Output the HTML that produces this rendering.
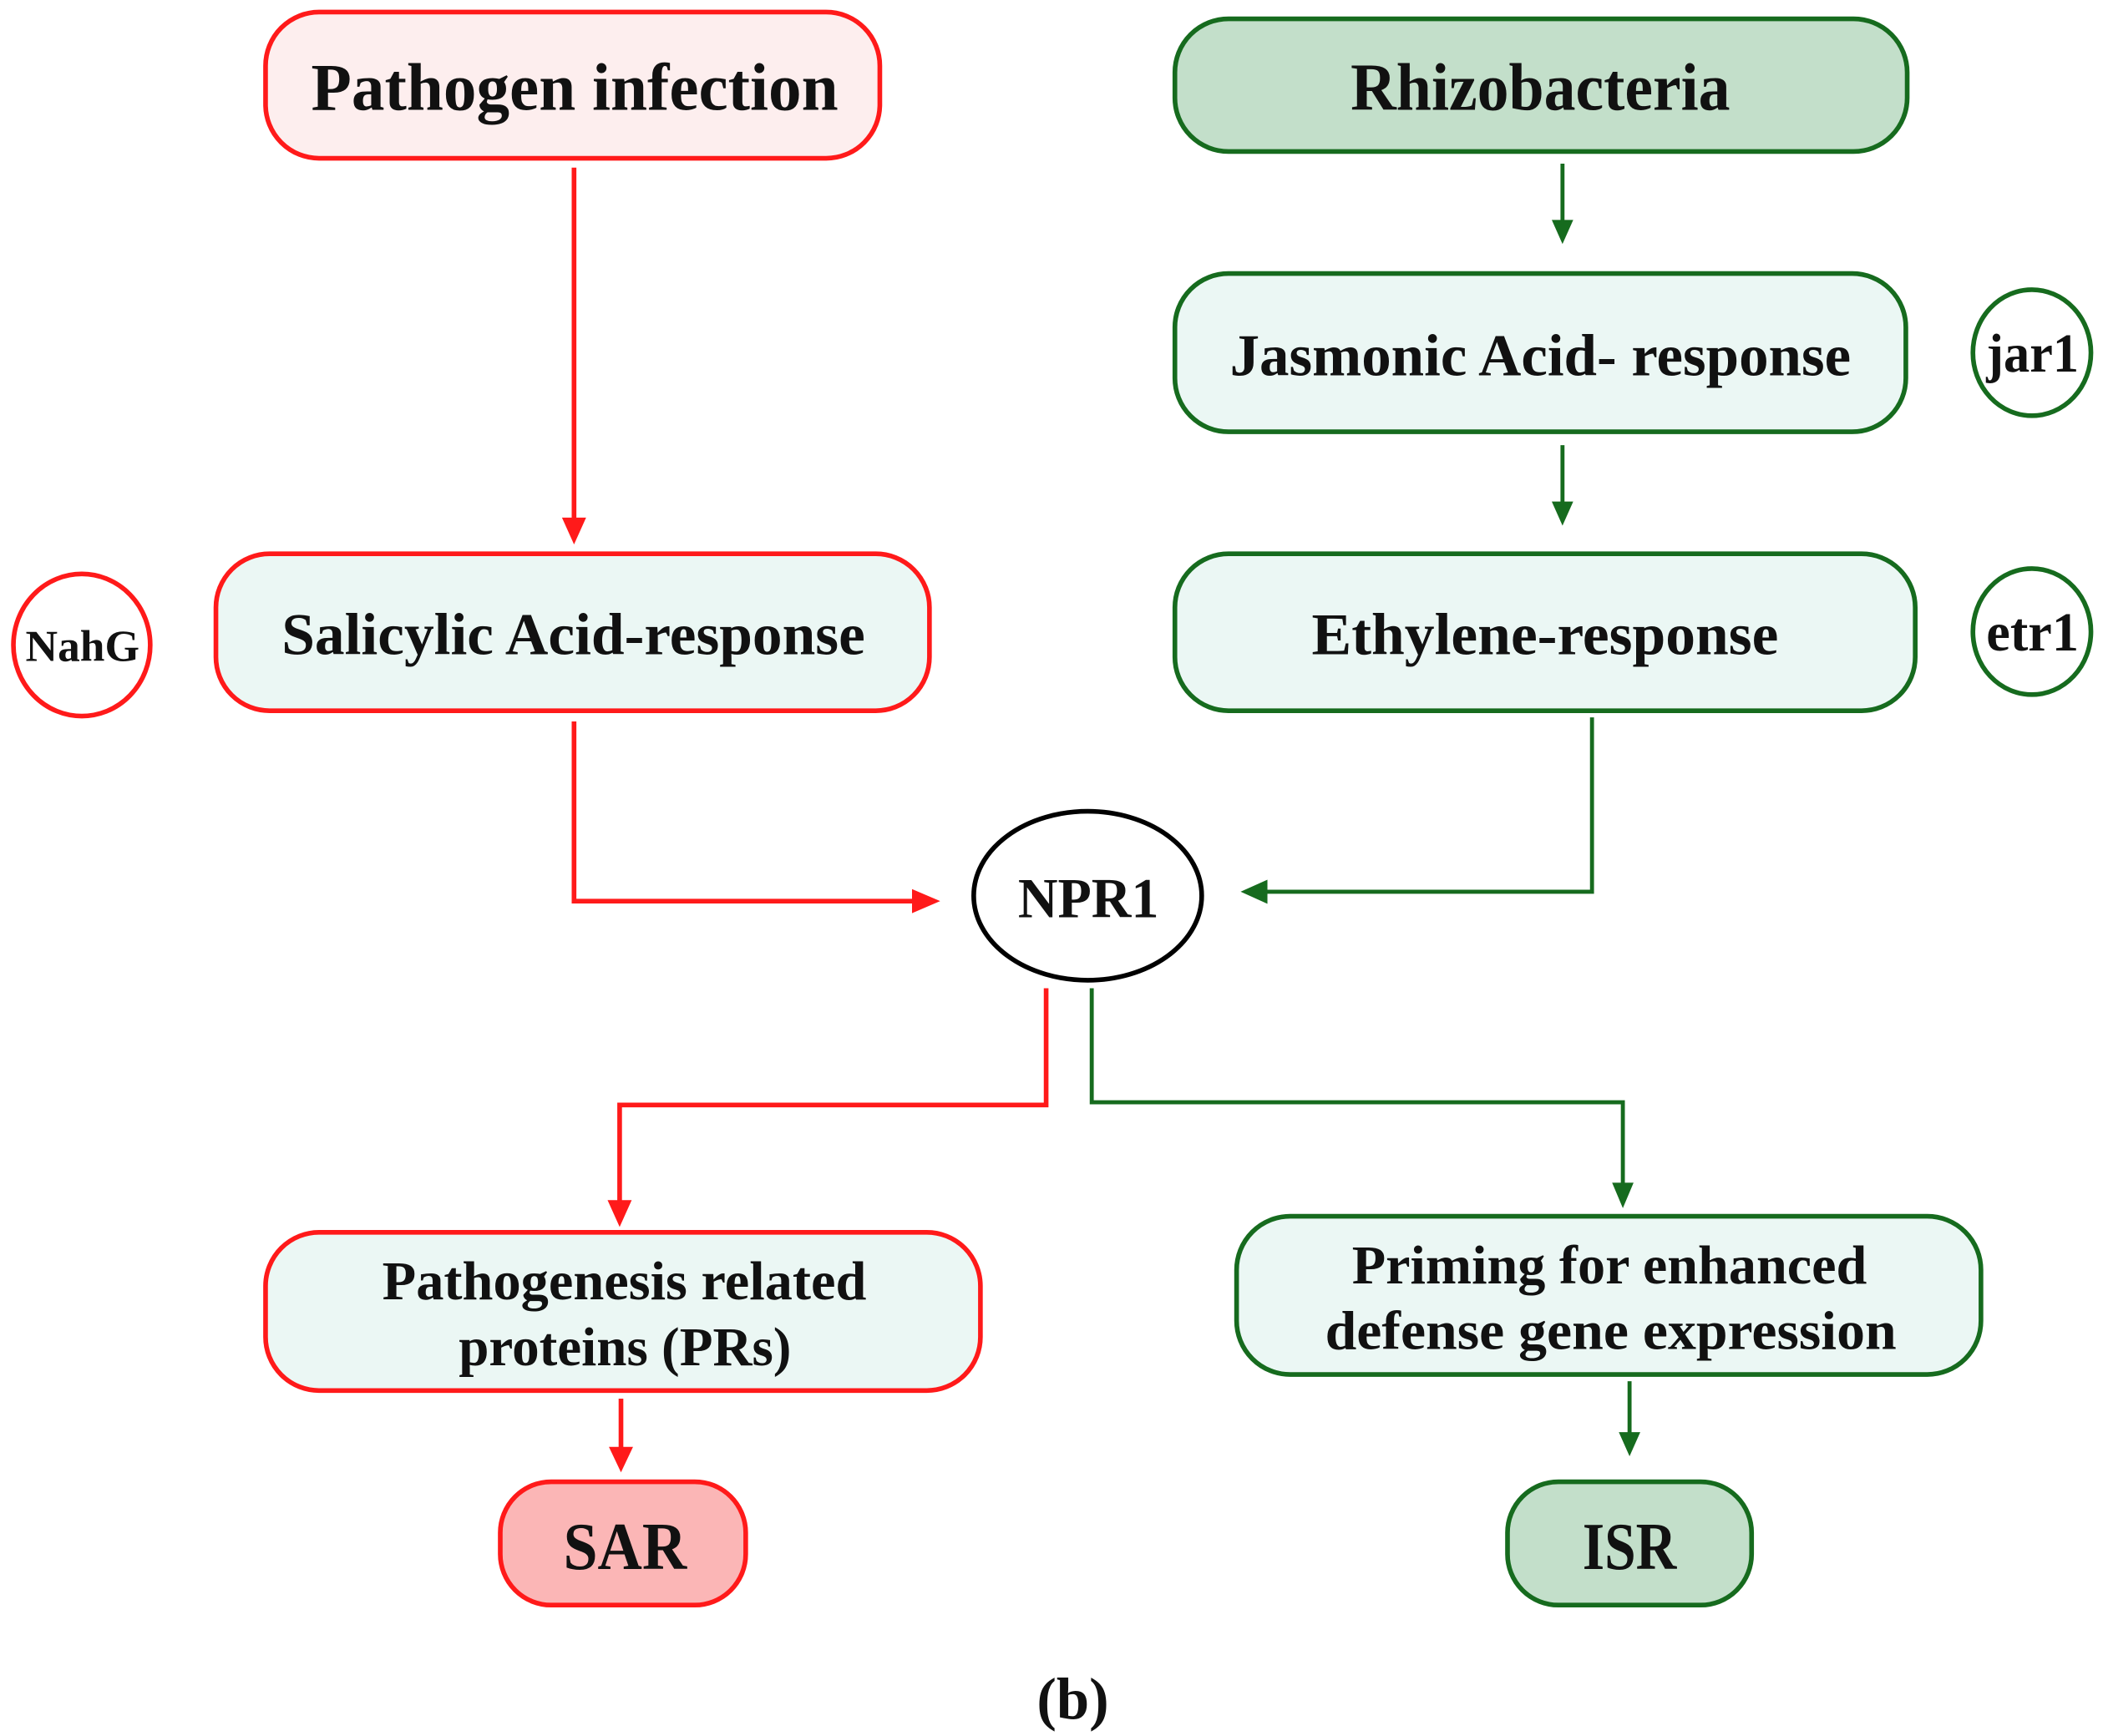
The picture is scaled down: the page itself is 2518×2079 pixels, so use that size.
<!DOCTYPE html>
<html><head><meta charset="utf-8"><style>
html,body{margin:0;padding:0;background:#fff;}
svg{display:block;}
text{font-family:"Liberation Serif",serif;fill:#111;font-weight:bold;}
</style></head><body>
<svg width="2518" height="2079" viewBox="0 0 1568 1294.6" xmlns="http://www.w3.org/2000/svg">
<g fill="none" stroke-width="3.5">
<g stroke="#ff1a1a">
<path d="M428,125 V392"/>
<path d="M428,538 V672 H686"/>
<path d="M780,737 V824 H462 V900"/>
<path d="M463,1043 V1084"/>
</g>
<g fill="#ff1a1a">
<path d="M419,386 L437,386 L428,406z"/>
<path d="M680,663 L680,681 L701,672z"/>
<path d="M453,895 L471,895 L462,915z"/>
<path d="M454,1079 L472,1079 L463,1098z"/>
</g>
<g stroke="#166b1e" stroke-width="3">
<path d="M1165,122 V168"/>
<path d="M1165,332 V378"/>
<path d="M1187,535 V665 H940"/>
<path d="M814,737 V822 H1210 V885"/>
<path d="M1215,1030 V1072"/>
</g>
<g fill="#166b1e">
<path d="M1157,164 L1173,164 L1165,182z"/>
<path d="M1157,374 L1173,374 L1165,392z"/>
<path d="M945,656 L945,674 L925,665z"/>
<path d="M1202,882 L1218,882 L1210,901z"/>
<path d="M1207,1068 L1223,1068 L1215,1086z"/>
</g>
<rect x="198" y="9" width="458" height="109" rx="40" fill="#fdeeee" stroke="#ff1a1a"/>
<rect x="876" y="14" width="546" height="99" rx="40" fill="#c3dfca" stroke="#166b1e"/>
<rect x="876" y="204" width="545" height="118" rx="40" fill="#ebf7f4" stroke="#166b1e"/>
<rect x="876" y="413" width="552" height="117" rx="40" fill="#ebf7f4" stroke="#166b1e"/>
<rect x="161" y="413" width="532" height="117" rx="40" fill="#ebf7f4" stroke="#ff1a1a"/>
<rect x="198" y="919" width="533" height="118" rx="40" fill="#ebf7f4" stroke="#ff1a1a"/>
<rect x="922" y="907" width="555" height="118" rx="40" fill="#ebf7f4" stroke="#166b1e"/>
<rect x="373" y="1105" width="183" height="92" rx="38" fill="#fbb6b6" stroke="#ff1a1a"/>
<rect x="1124" y="1105" width="182" height="92" rx="38" fill="#c3dfca" stroke="#166b1e"/>
<ellipse cx="61" cy="481" rx="51" ry="53" fill="#fff" stroke="#ff1a1a"/>
<ellipse cx="1515" cy="263" rx="44" ry="47" fill="#fff" stroke="#166b1e"/>
<ellipse cx="1515" cy="471" rx="44" ry="47" fill="#fff" stroke="#166b1e"/>
<ellipse cx="811" cy="668" rx="85" ry="63" fill="#fff" stroke="#000"/>
</g>
<text x="232" y="82" font-size="50" textLength="393" lengthAdjust="spacingAndGlyphs">Pathogen infection</text>
<text x="1007" y="82" font-size="50" textLength="283" lengthAdjust="spacingAndGlyphs">Rhizobacteria</text>
<text x="917" y="280" font-size="44" textLength="463" lengthAdjust="spacingAndGlyphs">Jasmonic Acid- response</text>
<text x="978" y="488" font-size="44" textLength="348" lengthAdjust="spacingAndGlyphs">Ethylene-response</text>
<text x="210" y="488" font-size="44" textLength="435" lengthAdjust="spacingAndGlyphs">Salicylic Acid-response</text>
<text x="285" y="969" font-size="41" textLength="361" lengthAdjust="spacingAndGlyphs">Pathogenesis related</text>
<text x="342" y="1018" font-size="41" textLength="248" lengthAdjust="spacingAndGlyphs">proteins (PRs)</text>
<text x="1008" y="957" font-size="41" textLength="384" lengthAdjust="spacingAndGlyphs">Priming for enhanced</text>
<text x="988" y="1006" font-size="41" textLength="426" lengthAdjust="spacingAndGlyphs">defense gene expression</text>
<text x="420" y="1170" font-size="50" textLength="92" lengthAdjust="spacingAndGlyphs">SAR</text>
<text x="1180" y="1170" font-size="50" textLength="70" lengthAdjust="spacingAndGlyphs">ISR</text>
<text x="759" y="684" font-size="42" textLength="105" lengthAdjust="spacingAndGlyphs">NPR1</text>
<text x="19" y="493" font-size="33" textLength="85" lengthAdjust="spacingAndGlyphs">NahG</text>
<text x="1481" y="277" font-size="41" textLength="69" lengthAdjust="spacingAndGlyphs">jar1</text>
<text x="1481" y="485" font-size="41" textLength="69" lengthAdjust="spacingAndGlyphs">etr1</text>
<text x="773" y="1282" font-size="44" font-weight="normal">(<tspan font-weight="bold">b</tspan>)</text>
</svg>
</body></html>
